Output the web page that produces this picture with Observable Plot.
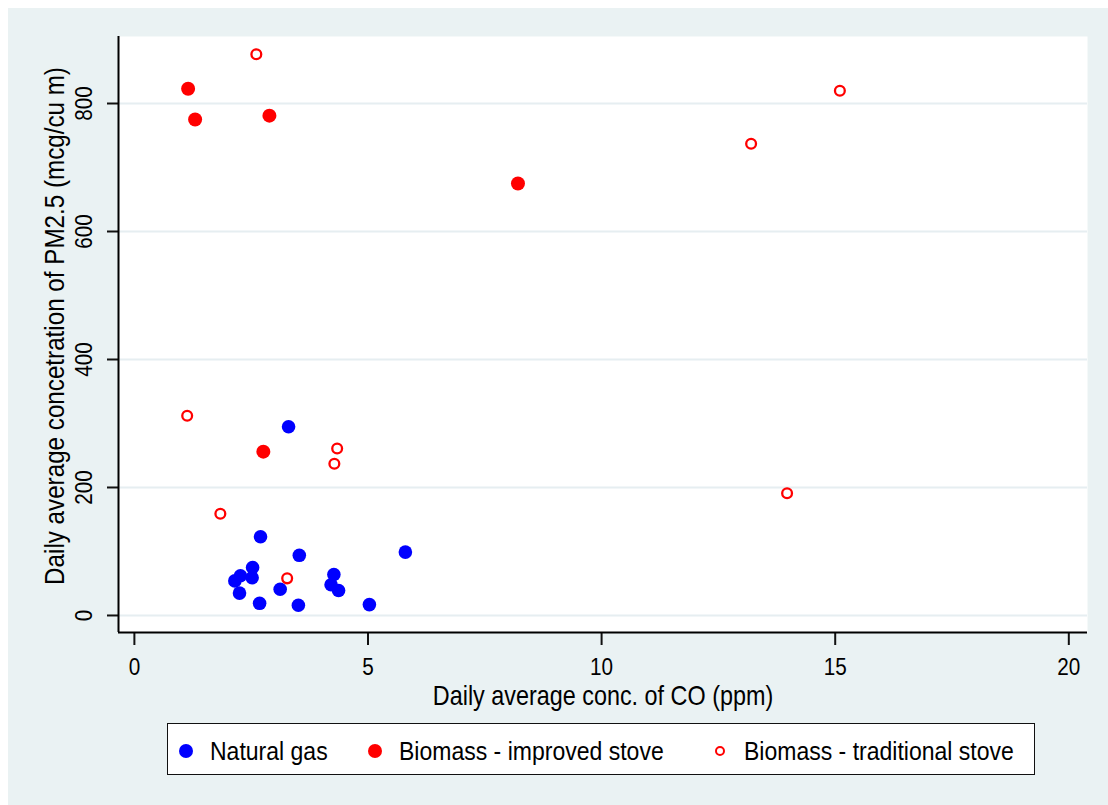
<!DOCTYPE html>
<html>
<head>
<meta charset="utf-8">
<script src="https://cdn.jsdelivr.net/npm/d3@7"></script>
<script src="https://cdn.jsdelivr.net/npm/@observablehq/plot@0.6"></script>
<style>
  html, body { margin: 0; padding: 0; background: #ffffff; }
  #wrap { position: relative; width: 1108px; height: 805px; overflow: hidden; font-family: "Liberation Sans", Arial, sans-serif; }
  #bg { position: absolute; left: 8px; top: 8px; right: 0; bottom: 0; background: #eaf2f3; }
  #chart { position: absolute; left: 0; top: 0; }
  #legend { position: absolute; left: 167px; top: 723px; width: 866px; height: 50px; background: #ffffff; border: 1.5px solid #111; }
  .sym { position: absolute; box-sizing: border-box; border-radius: 50%; }
  .lab { position: absolute; font-size: 26px; line-height: 26px; color: #000; white-space: nowrap; transform: scaleX(0.885); transform-origin: 0 50%; }
</style>
</head>
<body>
<div id="wrap">
  <div id="bg"></div>
  <div id="chart"></div>
  <div id="legend"></div>
</div>
<script>
// ---- data ----
const groups = ["Natural gas", "Biomass - improved stove", "Biomass - traditional stove"];
const gasX = [3.30, 2.70, 3.53, 5.80, 2.53, 2.27, 2.15, 2.52, 2.25, 2.68, 3.12, 3.51, 4.27, 4.21, 4.37, 5.03];
const gasY = [295, 123, 94, 99, 75, 62, 54, 59, 35, 19, 41, 16, 64, 48, 39, 17];
const improvedX = [1.15, 1.30, 2.89, 8.21, 2.76];
const improvedY = [823, 775, 781, 675, 256];
const tradX = [2.61, 13.2, 15.1, 1.13, 4.34, 4.28, 13.97, 1.84, 3.27];
const tradY = [877, 737, 820, 312, 261, 237, 191, 159, 58];
const xTicks = [0, 5, 10, 15, 20];
const yTicks = [0, 200, 400, 600, 800];
const xTitle = "Daily average conc. of CO (ppm)";
const yTitle = "Daily average concetration of PM2.5 (mcg/cu m)";

const toRows = (xs, ys, g) => xs.map((x, i) => ({x, y: ys[i], group: g}));
const gasRows = toRows(gasX, gasY, groups[0]);
const impRows = toRows(improvedX, improvedY, groups[1]);
const tradRows = toRows(tradX, tradY, groups[2]);

const xDomain = [-0.34, 20.4];
const yDomain = [-26.6, 904.7];
const FONT = '"Liberation Sans", Arial, sans-serif';

const chart = Plot.plot({
  width: 1108,
  height: 715,
  marginTop: 36,
  marginLeft: 118,
  marginRight: 21,
  marginBottom: 83,
  style: {background: "transparent", fontFamily: FONT, color: "#000"},
  x: {domain: xDomain},
  y: {domain: yDomain},
  marks: [
    Plot.frame({fill: "white", stroke: null}),
    Plot.gridY(yTicks, {stroke: "#e6eef1", strokeOpacity: 1, strokeWidth: 2}),
    Plot.axisY({ticks: yTicks, tickSize: 11, tickFormat: () => "", label: null, strokeWidth: 2, stroke: "#111"}),
    Plot.text(yTicks, {y: d => d, frameAnchor: "left", dx: -34, rotate: -90, text: d => `${d}`, fontSize: 23, textAnchor: "middle", lineAnchor: "middle", fill: "#000"}),
    Plot.text([yTitle], {frameAnchor: "left", dx: -63, dy: -8.5, rotate: -90, text: d => d, fontSize: 27.5, textAnchor: "middle", lineAnchor: "middle", fill: "#000"}),
    Plot.axisX({ticks: xTicks, tickSize: 13, tickPadding: 13, fontSize: 23, label: null, strokeWidth: 2, stroke: "#111", fill: "#000"}),
    Plot.text([xTitle], {frameAnchor: "bottom", dy: 52.5, text: d => d, fontSize: 27.5, textAnchor: "middle", lineAnchor: "top", fill: "#000"}),
    Plot.ruleX([xDomain[0]], {stroke: "#000", strokeWidth: 2}),
    Plot.ruleY([yDomain[0]], {stroke: "#000", strokeWidth: 2}),
    Plot.dot(gasRows, {x: "x", y: "y", r: 6.8, fill: "#0000ff", stroke: null}),
    Plot.dot(impRows, {x: "x", y: "y", r: 7, fill: "#ff0000", stroke: null}),
    Plot.dot(tradRows, {x: "x", y: "y", r: 4.9, fill: "white", stroke: "#ff0000", strokeWidth: 2.3})
  ]
});
document.getElementById("chart").appendChild(chart);

// narrow the glyphs horizontally (the reference uses a condensed face)
chart.querySelectorAll("text").forEach(t => {
  const label = t.textContent;
  let s = 0.9;
  if (label === xTitle) s = 0.85;
  else if (label === yTitle) s = 0.88;
  const w = t.getComputedTextLength();
  if (w > 0) {
    t.setAttribute("textLength", (w * s).toFixed(2));
    t.setAttribute("lengthAdjust", "spacingAndGlyphs");
  }
});

// ---- legend ----
const wrap = document.getElementById("wrap");
const legendSpec = [
  {label: groups[0], cx: 186, r: 7, fill: "#0000ff", hollow: false, tx: 210},
  {label: groups[1], cx: 375, r: 7, fill: "#ff0000", hollow: false, tx: 399},
  {label: groups[2], cx: 720, r: 5, fill: "#ff0000", hollow: true, tx: 744}
];
const cy = 750.5, baseline = 759.5;
for (const s of legendSpec) {
  const sym = document.createElement("div");
  sym.className = "sym";
  sym.style.left = (s.cx - s.r) + "px";
  sym.style.top = (cy - s.r) + "px";
  sym.style.width = (2 * s.r) + "px";
  sym.style.height = (2 * s.r) + "px";
  if (s.hollow) { sym.style.background = "#fff"; sym.style.border = `2px solid ${s.fill}`; }
  else sym.style.background = s.fill;
  wrap.appendChild(sym);
  const lab = document.createElement("div");
  lab.className = "lab";
  lab.style.left = s.tx + "px";
  lab.style.top = (baseline - 22) + "px";
  lab.textContent = s.label;
  wrap.appendChild(lab);
}
</script>
</body>
</html>
